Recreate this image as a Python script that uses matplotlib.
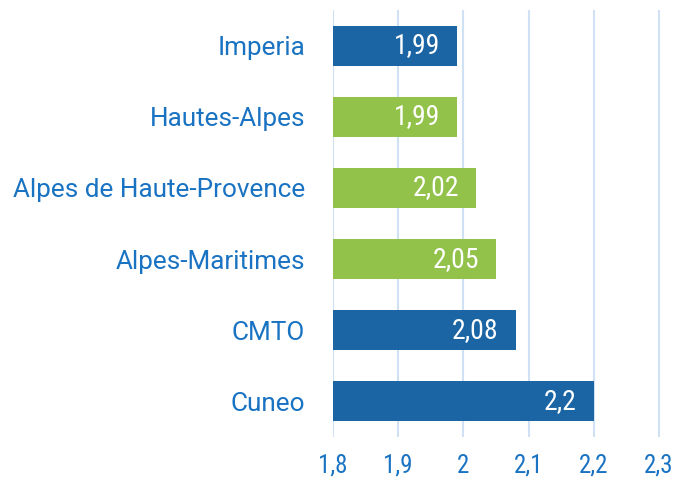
import matplotlib
matplotlib.use("Agg")
import matplotlib.pyplot as plt
from matplotlib import font_manager
from matplotlib.ticker import FuncFormatter
import matplotlib.transforms as mtransforms

categories = ["Imperia", "Hautes-Alpes", "Alpes de Haute-Provence", "Alpes-Maritimes", "CMTO", "Cuneo"]
values = [1.99, 1.99, 2.02, 2.05, 2.08, 2.2]
groups = ["it", "fr", "fr", "fr", "it", "it"]
xticks = [1.8, 1.9, 2.0, 2.1, 2.2, 2.3]

colors = {"it": "#1B65A4", "fr": "#92C24A"}
label_color = "#1A73C2"
grid_color = "#CFE1F3"

names = {f.name for f in font_manager.fontManager.ttflist}
main_font = "Roboto" if "Roboto" in names else "DejaVu Sans"
narrow_font = main_font
for cand in ["Roboto Condensed", "Liberation Sans Narrow"]:
    if cand in names:
        narrow_font = cand
        break

fig = plt.figure(figsize=(6.82, 4.87), dpi=100)
ax = fig.add_axes([333/682, 1 - 437/487, 327/682, 427/487])

n = len(categories)
ypos = list(range(n))[::-1]
ax.barh(ypos, [v - 1.8 for v in values], left=1.8, height=0.56,
        color=[colors[g] for g in groups], zorder=3)

def fmt(v):
    s = ("%.2f" % v).rstrip("0").rstrip(".")
    return s.replace(".", ",")

for y, v in zip(ypos, values):
    off = mtransforms.offset_copy(ax.transData, fig=fig, x=-17, y=0, units="dots")
    ax.text(v, y, fmt(v), transform=off, ha="right", va="center",
            color="white", fontsize=20, family=narrow_font, zorder=4)

ax.set_xlim(1.8, 2.3015)
ax.set_ylim(-0.5, n - 0.5)
ax.set_xticks(xticks)
ax.xaxis.set_major_formatter(FuncFormatter(lambda v, p: fmt(v)))
ax.set_yticks(ypos)
ax.set_yticklabels(categories)
for lab in ax.get_yticklabels():
    lab.set_fontfamily(main_font)
    lab.set_fontsize(18.8)
    lab.set_color(label_color)
for lab in ax.get_xticklabels():
    lab.set_fontfamily(narrow_font)
    lab.set_fontsize(18)
    lab.set_color(label_color)
ax.tick_params(axis="y", length=0, pad=20)
ax.tick_params(axis="x", length=0, pad=12)
ax.grid(axis="x", color=grid_color, linewidth=1.5, zorder=0)
for s in ax.spines.values():
    s.set_visible(False)
ax.set_facecolor("white")

fig.savefig("out.png", dpi=100)
